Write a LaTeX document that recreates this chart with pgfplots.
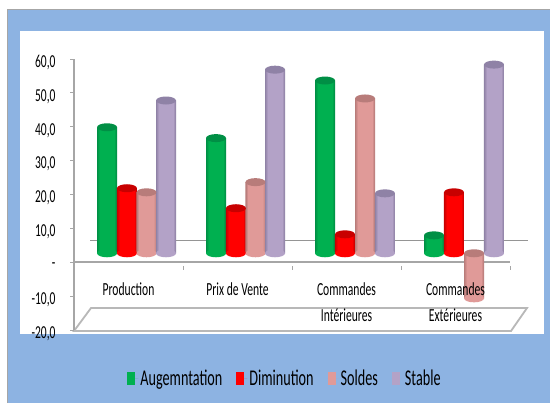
\documentclass[border=0pt]{standalone}
\usepackage{fontspec}
\setmainfont[FakeStretch=0.63]{Carlito}
\usepackage{pgfplots}
\usepackage{pgfplotstable}
\pgfplotsset{compat=1.18}

\definecolor{panelblue}{HTML}{8DB3E2}
\definecolor{axisgrey}{HTML}{A6A6A6}
\definecolor{cgreen}{HTML}{00B050}
\definecolor{cgreend}{HTML}{008F45}
\definecolor{cred}{HTML}{FF0000}
\definecolor{credd}{HTML}{C80000}
\definecolor{cpink}{HTML}{E09A98}
\definecolor{cpinkd}{HTML}{B87C7A}
\definecolor{cpurple}{HTML}{B3A2C7}
\definecolor{cpurpled}{HTML}{8F82A6}

% cylinder ends
\pgfdeclareplotmark{cylend}{%
  \pgfpathellipse{\pgfpointorigin}{\pgfqpoint{10bp}{0pt}}{\pgfqpoint{0pt}{4bp}}%
  \pgfusepathqfill}

% x position of each bar
\pgfplotstableread{
x v
0.303 37.2
1.303 34.0
2.303 51.0
3.303 5.3
}\augm
\pgfplotstableread{
x v
0.486 19.2
1.486 13.3
2.486 5.6
3.486 18.0
}\dimi
\pgfplotstableread{
x v
0.665 18.0
1.665 21.0
2.670 45.7
3.670 -13.3
}\soldes
\pgfplotstableread{
x v
0.844 45.1
1.844 54.2
2.853 17.7
3.853 55.7
}\stable

\pgfplotsset{
  box/.style={at={(74bp,73bp)}, anchor=south west, scale only axis,
    width=436bp, height=271bp, xmin=0, xmax=4, clip=false},
  band/.style={ybar, draw=none, forget plot},
}

% one series: three nested bars for the round look, then the two ends
\newcommand\cylinder[3]{%
  \addplot[band, bar width=20bp, bar shift=0pt, fill=#1d] table[x=x,y=v] {#2};
  \addplot[band, bar width=18bp, bar shift=.3bp, fill=#1!55!#1d] table[x=x,y=v] {#2};
  \addplot[ybar, draw=none, bar width=15.5bp, bar shift=.3bp, fill=#1,
    legend image code/.code={\fill[#1] (0bp,-6.5bp) rectangle (8bp,6.5bp); \path (0bp,0bp) -- (11bp,0bp);}] table[x=x,y=v] {#2};
  \addlegendentry{#3}
  \addplot[only marks, mark=cylend, color=#1, forget plot] table[x=x,y expr={min(\thisrow{v},0)}] {#2};
  \addplot[only marks, mark=cylend, color=#1d, forget plot] table[x=x,y expr={max(\thisrow{v},0)}] {#2};
}

\begin{document}
\begin{tikzpicture}
\begin{scope}[x=1bp,y=1bp]
  \useasboundingbox (0,0) rectangle (550,403);
  \fill[white] (0,0) rectangle (550,403);
  \fill[panelblue] (7,0) rectangle (550,394);
  \draw[axisgrey,line width=.8bp] (7,0) -- (7,394) -- (550,394);
  \fill[white] (20,69) rectangle (544,372);
  % back wall line and floor
  \draw[axisgrey!90!black,line width=1.5bp] (90,162.4) -- (528,162.4);
  \draw[axisgrey!80,line width=1.8bp] (74,72) -- (91,95) -- (527,95) -- (511,72) -- cycle;
\end{scope}

% value axis and category axis
\begin{axis}[box,
    ymin=-20, ymax=60,
    axis x line=middle, axis y line=left,
    axis line style={draw=axisgrey, line width=1.6bp, -},
    xtick={0,1,2,3,4}, xticklabels={},
    ytick={-20,-10,0,10,20,30,40,50,60},
    yticklabels={{-20,0},{-10,0},{-\hspace{5bp}},{10,0},{20,0},{30,0},{40,0},{50,0},{60,0}},
    tick style={draw=axisgrey, line width=.8bp},
    xtick style={yshift=-3.5bp},
    major tick length=4bp,
    tick align=outside,
    yticklabel style={font=\fontsize{18.3}{20}\selectfont, yshift=-3.5bp, xshift=-11bp},
]
\end{axis}

% bars: their base lies on the floor of the depth, above the axis zero
\begin{axis}[box,
    ymin=-22.65, ymax=57.35,
    hide axis,
    legend columns=4,
    legend style={at={(0.122,-0.178)}, anchor=west, draw=none, fill=none,
      font=\fontsize{22.6}{25}\selectfont, inner sep=0pt,
      /tikz/every even column/.style={column sep=12bp}},
]
\cylinder{cgreen}{\augm}{Augemntation}
\cylinder{cred}{\dimi}{Diminution}
\cylinder{cpink}{\soldes}{Soldes}
\cylinder{cpurple}{\stable}{Stable}
\end{axis}

% category names, above the bars
\begin{axis}[at={(74bp,120.5bp)}, anchor=south west, scale only axis,
    width=436bp, height=2bp, xmin=0, xmax=4, ymin=0, ymax=1,
    axis line style={draw=none}, axis y line=none, axis x line=bottom,
    xtick={0.5,1.5,2.5,3.5},
    xticklabels={{Production},{Prix de Vente},{Commandes\\[10bp]Intérieures},{Commandes\\[10bp]Extérieures}},
    major tick length=0pt,
    xticklabel style={align=center, font=\fontsize{18.5}{16}\selectfont, text=black, inner sep=0pt, anchor=north},
]
\end{axis}
\end{tikzpicture}
\end{document}
